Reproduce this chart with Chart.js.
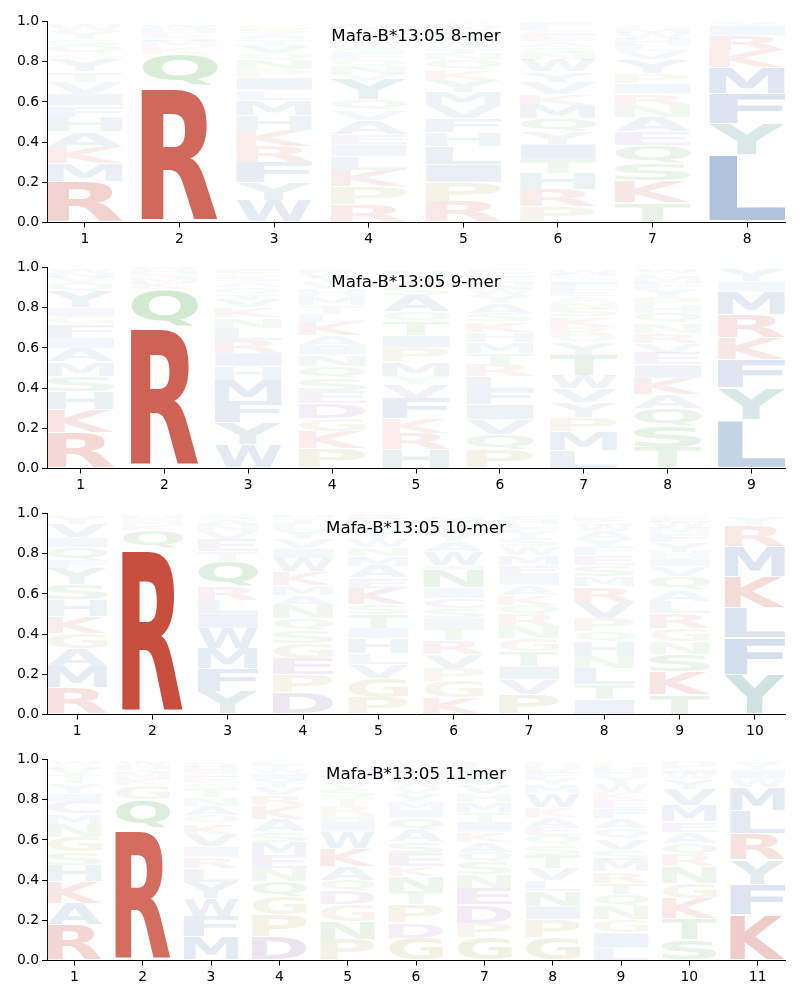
<!DOCTYPE html>
<html><head><meta charset="utf-8">
<script src="https://cdn.jsdelivr.net/npm/chart.js@4/dist/chart.umd.min.js"></script>
<style>
html,body{margin:0;padding:0;background:#fff;}
.panel{position:absolute;left:0;width:800px;height:246px;}
canvas{display:block;}
</style></head><body>
<div class="panel" style="top:0px"><canvas id="c0" width="800" height="246"></canvas></div>
<div class="panel" style="top:246px"><canvas id="c1" width="800" height="246"></canvas></div>
<div class="panel" style="top:492px"><canvas id="c2" width="800" height="246"></canvas></div>
<div class="panel" style="top:738px"><canvas id="c3" width="800" height="246"></canvas></div>
<script>
// ---------- DATA ----------
const titles = ["Mafa-B*13:05 8-mer", "Mafa-B*13:05 9-mer", "Mafa-B*13:05 10-mer", "Mafa-B*13:05 11-mer"];
const yTickValues = [0, 0.2, 0.4, 0.6, 0.8, 1.0];

// letters per position, bottom to top
const letters8 = ["RMKAHFIVTYGQSYW","RQKMSEHW","WYFRKHMLIPNQVTASG","RPKLIEAVQYVNQFSTWGM","RPILHFVMYKQNTSAEWG","PRHTIYQMKVYWNSAEGLF","TKSQEANRIPYVLHWMG","LYFMKRIV"];
const heights8 = [
  [.204,.088,.083,.078,.071,.056,.06,.06,.05,.06,.03,.04,.03,.04,.03],
  [.68,.16,.03,.03,.025,.02,.02,.015],
  [.11,.09,.10,.08,.08,.075,.075,.05,.06,.04,.05,.03,.04,.03,.03,.02,.02],
  [.09,.09,.08,.07,.06,.05,.07,.05,.05,.10,.03,.04,.03,.03,.03,.03,.03,.02,.03],
  [.105,.095,.09,.09,.07,.07,.065,.065,.06,.05,.05,.03,.03,.03,.03,.02,.02,.02],
  [.08,.085,.08,.065,.08,.06,.07,.065,.055,.06,.05,.06,.03,.03,.03,.03,.02,.02,.02],
  [.10,.11,.085,.09,.065,.075,.06,.055,.05,.05,.07,.04,.03,.03,.03,.02,.02],
  [.335,.155,.15,.13,.085,.075,.05,.01]
];

const letters9 = ["RKHSMAIFGIYQVNW","RQKMSHW","WYFMHIRLNKVTQASGE","PKGDESQNIAKLTMHVYWR","HRKFVYMPITQASWGN","PQVIFLRTMHKSAYWNEGC","LMPYVWTYQRKSNAEFIGHW","TSQAKIEVRNQHPYFMGW","LYFKRMIY"];
const heights9 = [
  [.177,.116,.091,.076,.07,.07,.05,.065,.042,.043,.08,.04,.03,.02,.02],
  [.707,.183,.03,.025,.02,.02,.01],
  [.12,.107,.107,.106,.07,.065,.065,.06,.05,.05,.04,.03,.03,.03,.02,.02,.02],
  [.10,.085,.065,.075,.06,.065,.06,.056,.049,.05,.065,.04,.04,.04,.04,.03,.03,.02,.02],
  [.094,.083,.073,.10,.07,.04,.07,.07,.06,.07,.05,.08,.04,.03,.03,.02],
  [.094,.076,.073,.075,.072,.07,.06,.055,.055,.05,.05,.04,.05,.04,.03,.03,.03,.02,.02],
  [.09,.095,.07,.075,.07,.065,.10,.06,.04,.04,.05,.04,.03,.03,.03,.03,.02,.02,.01,.02],
  [.103,.107,.09,.067,.083,.066,.059,.05,.049,.05,.05,.04,.04,.04,.03,.03,.02,.02],
  [.243,.157,.14,.11,.115,.115,.05,.06]
];

const letters10 = ["RMAGKHSYFQIVY","RQKMSH","YFMWILRQTEVNAS","DPEGSQNAMKWIVYLTH","PGVLHITSKEAMNWYQFR","KGPVRTISCINIWAYEQM","PVITGNRQKAIEMWSYFLHC","ITLNHQPVRMSEFYAWGK","TKSNGRLAQVIHYFMWEP","YFLKMRY"];
const heights10 = [
  [.132,.108,.09,.075,.083,.082,.075,.082,.04,.065,.05,.065,.04],
  [.826,.091,.025,.02,.015,.015],
  [.116,.115,.099,.10,.074,.066,.066,.124,.05,.06,.04,.03,.03,.02],
  [.107,.091,.082,.075,.065,.06,.065,.05,.05,.065,.066,.05,.05,.04,.03,.03,.01],
  [.083,.097,.068,.057,.075,.05,.07,.05,.08,.05,.06,.05,.04,.04,.04,.03,.03,.02],
  [.083,.082,.065,.07,.07,.06,.05,.05,.05,.05,.09,.02,.07,.05,.04,.03,.03,.02],
  [.10,.074,.066,.074,.066,.058,.058,.049,.05,.05,.05,.05,.05,.04,.04,.03,.02,.02,.02,.02],
  [.074,.075,.081,.06,.074,.049,.067,.08,.076,.05,.058,.05,.04,.04,.04,.03,.02,.02],
  [.10,.115,.085,.064,.066,.074,.058,.058,.066,.05,.04,.03,.05,.04,.03,.03,.02,.01],
  [.198,.182,.15,.156,.149,.105,.04]
];

const letters11 = ["RAKHSGNMCIYTVQW","RQGKMSHW","MFWYLRIVKQANTSEGHD","DPGQNEMSAKRVYIWTL","PNGDQAKWIHRTSVYEM","GDPTNKESAQIMYVWRHLF","GPDENSQAKITMHVYWRL","GPINLVTSQEAKWMYFRHD","LIGNQTRMSVQAFEKWYHDP","STKGNRQAEMVYWIFH","KFYRLMWIYV"];
const heights11 = [
  [.178,.107,.108,.082,.065,.075,.065,.05,.06,.04,.05,.04,.03,.02,.02],
  [.66,.14,.07,.03,.03,.02,.02,.02],
  [.12,.10,.09,.08,.07,.056,.05,.064,.05,.04,.05,.04,.04,.03,.03,.02,.03,.02],
  [.12,.108,.09,.075,.067,.065,.065,.05,.06,.07,.05,.04,.04,.03,.02,.02,.02],
  [.104,.091,.082,.066,.057,.067,.091,.082,.05,.04,.04,.04,.04,.03,.03,.02,.02],
  [.112,.074,.091,.066,.074,.05,.066,.057,.06,.06,.04,.04,.04,.03,.03,.02,.02,.03,.02],
  [.112,.074,.091,.083,.066,.064,.05,.05,.05,.05,.05,.05,.04,.04,.03,.03,.02,.03],
  [.112,.091,.067,.073,.057,.06,.065,.049,.05,.04,.05,.05,.07,.04,.03,.03,.02,.02,.01],
  [.063,.074,.066,.067,.057,.058,.057,.058,.05,.057,.05,.05,.05,.04,.04,.04,.04,.03,.02,.02],
  [.104,.106,.10,.075,.082,.058,.058,.057,.05,.08,.08,.05,.03,.02,.02,.02],
  [.228,.148,.124,.132,.116,.115,.042,.04,.03,.015]
];

// ---------- STYLE ----------
const baseColors = {red:[200,78,62], blue:[66,112,174], teal:[58,138,126], green:[58,160,58], olive:[154,154,58], purple:[125,78,156]};
const letterGroup = {R:'red',K:'red',A:'blue',C:'purple',D:'purple',E:'purple',F:'blue',G:'olive',H:'teal',I:'blue',L:'blue',M:'blue',N:'green',P:'olive',Q:'green',S:'green',T:'green',V:'blue',W:'blue',Y:'teal'};
function letterColor(letter, h){
  const c = baseColors[letterGroup[letter]] || [120,120,120];
  const a = Math.max(0.04, Math.min(1, h / 0.8));
  return `rgba(${c[0]},${c[1]},${c[2]},${a.toFixed(3)})`;
}

const glyphFont = 'bold 100px "DejaVu Sans"';
const metricCache = {};
function glyphMetrics(ctx, letter){
  if (metricCache[letter]) return metricCache[letter];
  ctx.save(); ctx.font = glyphFont; ctx.textAlign = 'left'; ctx.textBaseline = 'alphabetic';
  const m = ctx.measureText(letter);
  ctx.restore();
  const r = {L:m.actualBoundingBoxLeft, R:m.actualBoundingBoxRight, A:m.actualBoundingBoxAscent, D:m.actualBoundingBoxDescent};
  metricCache[letter] = r; return r;
}
function drawGlyph(ctx, letter, x, y, w, h, color){
  if (w <= 0 || h <= 0) return;
  const m = glyphMetrics(ctx, letter);
  const gw = m.L + m.R, gh = m.A + m.D;
  ctx.save();
  ctx.translate(x, y);
  ctx.scale(w / gw, h / gh);
  ctx.font = glyphFont; ctx.textAlign = 'left'; ctx.textBaseline = 'alphabetic';
  ctx.fillStyle = color;
  ctx.fillText(letter, m.L, m.A);
  ctx.restore();
}

const logoPlugin = {
  id: 'logo',
  afterDatasetsDraw(chart, args, opts){
    const ctx = chart.ctx;
    const meta = chart.getDatasetMeta(0);
    const items = opts.items;
    meta.data.forEach((bar, i) => {
      const it = items[i];
      const p = bar.getProps(['x','y','base','width'], true);
      const top = Math.min(p.y, p.base), bot = Math.max(p.y, p.base);
      const h = bot - top;
      const pad = h * 0.025;
      drawGlyph(ctx, it.letter, p.x - p.width / 2, top + pad, p.width, h - 2 * pad, letterColor(it.letter, it.h));
    });
    const a = chart.chartArea;
    ctx.save();
    ctx.font = '16.7px "DejaVu Sans"';
    ctx.fillStyle = '#000';
    ctx.textAlign = 'center';
    ctx.textBaseline = 'middle';
    ctx.fillText(opts.title, (a.left + a.right) / 2, a.top + 15);
    ctx.restore();
  }
};

function buildPanel(canvasId, title, letters, heights){
  const positions = letters.map((_, i) => i + 1);
  const data = [], items = [];
  letters.forEach((str, i) => {
    let cum = 0;
    for (let k = 0; k < str.length; k++){
      const h = heights[i][k];
      data.push({x: positions[i], y: [cum, cum + h]});
      items.push({letter: str[k], h: h});
      cum += h;
    }
  });
  const tickFont = {family: 'DejaVu Sans', size: 13.9};
  new Chart(document.getElementById(canvasId), {
    type: 'bar',
    data: {datasets: [{data: data, backgroundColor: 'rgba(0,0,0,0)', borderWidth: 0,
      categoryPercentage: 1, barPercentage: 0.8, grouped: false}]},
    options: {
      responsive: false, animation: false, events: [],
      layout: {padding: {top: 21.5, right: 15, left: 0, bottom: 0}},
      plugins: {legend: {display: false}, tooltip: {enabled: false}, title: {display: false},
        logo: {items: items, title: title}},
      scales: {
        x: {type: 'linear', min: 0.6, max: letters.length + 0.4, offset: false,
          afterBuildTicks: s => { s.ticks = positions.map(v => ({value: v})); },
          afterFit: s => { s.height = 23.5; },
          grid: {display: true, offset: false, drawOnChartArea: false, drawTicks: true, tickLength: 5, color: '#000', lineWidth: 1},
          border: {display: true, color: '#000', width: 1},
          ticks: {color: '#000', font: tickFont, padding: 4, maxRotation: 0, autoSkip: false, callback: v => String(v)}},
        y: {type: 'linear', min: 0, max: 1,
          afterBuildTicks: s => { s.ticks = yTickValues.map(v => ({value: v})); },
          afterFit: s => { s.width = 47; },
          grid: {display: true, drawOnChartArea: false, drawTicks: true, tickLength: 5, color: '#000', lineWidth: 1},
          border: {display: true, color: '#000', width: 1},
          ticks: {color: '#000', font: tickFont, padding: 3, callback: v => Number(v).toFixed(1)}}
      }
    },
    plugins: [logoPlugin]
  });
}

buildPanel('c0', titles[0], letters8, heights8);
buildPanel('c1', titles[1], letters9, heights9);
buildPanel('c2', titles[2], letters10, heights10);
buildPanel('c3', titles[3], letters11, heights11);
</script>
</body></html>
